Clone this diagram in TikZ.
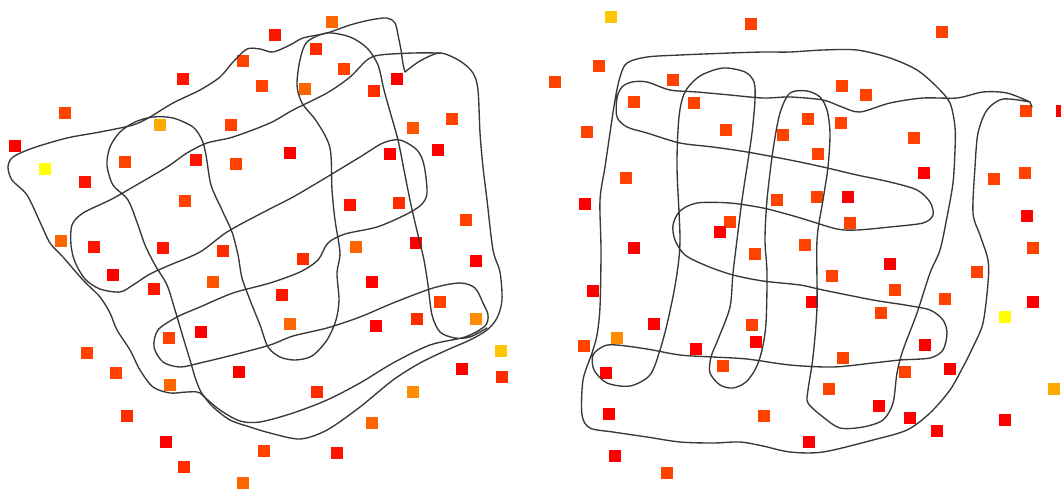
\documentclass[tikz,border=0pt]{standalone}
\definecolor{cR}{HTML}{FF0000}
\definecolor{cRa}{HTML}{FF1400}
\definecolor{cRb}{HTML}{FF2C00}
\definecolor{cOa}{HTML}{FF4200}
\definecolor{cOm}{HTML}{FF5400}
\definecolor{cOb}{HTML}{FF6600}
\definecolor{cOc}{HTML}{FF8C00}
\definecolor{cOd}{HTML}{FFA800}
\definecolor{cYa}{HTML}{FFC600}
\definecolor{cY}{HTML}{FFFF00}
\definecolor{ink}{HTML}{383838}
\newcommand\sq[3]{\fill[#1] (#2,#3) ++(-5.75,-5.75) rectangle ++(11.5,11.5);}
\tikzset{scribble/.style={draw=ink,line width=1.35pt,line join=round,line cap=round}}
\begin{document}
\begin{tikzpicture}[x=1pt,y=-1pt]
\useasboundingbox (0,0) rectangle (1061,491);
% ---------- left panel squares ----------
\sq{cOb}{332}{22} \sq{cRa}{275}{35} \sq{cRb}{316}{49} \sq{cOa}{243}{61}
\sq{cRa}{183}{79} \sq{cOa}{344}{69} \sq{cOa}{262}{86} \sq{cOb}{305}{89}
\sq{cRb}{374}{91} \sq{cR}{397}{79} \sq{cOa}{65}{113} \sq{cOd}{160}{125}
\sq{cOa}{231}{125} \sq{cR}{15}{146} \sq{cY}{45}{169} \sq{cRa}{85}{182}
\sq{cOa}{125}{162} \sq{cRa}{196}{160} \sq{cOa}{236}{164} \sq{cR}{290}{153}
\sq{cOm}{413}{128} \sq{cOa}{452}{119} \sq{cR}{438}{150} \sq{cR}{390}{154}
\sq{cOa}{185}{201} \sq{cRa}{350}{205} \sq{cRb}{399}{203} \sq{cOa}{466}{220}
\sq{cOb}{61}{241} \sq{cRa}{94}{247} \sq{cRa}{163}{248} \sq{cRb}{223}{251}
\sq{cRb}{303}{259} \sq{cOb}{356}{247} \sq{cR}{416}{243} \sq{cR}{476}{261}
\sq{cR}{113}{275} \sq{cRa}{154}{289} \sq{cOm}{213}{282} \sq{cR}{372}{282}
\sq{cRa}{282}{295} \sq{cOa}{440}{302} \sq{cOc}{476}{319} \sq{cOa}{169}{338}
\sq{cR}{201}{332} \sq{cOb}{290}{324} \sq{cR}{376}{326} \sq{cRb}{417}{319}
\sq{cOa}{87}{353} \sq{cOa}{116}{373} \sq{cOb}{170}{385} \sq{cR}{239}{372}
\sq{cRb}{317}{392} \sq{cOc}{413}{392} \sq{cR}{462}{369} \sq{cYa}{501}{351}
\sq{cRb}{502}{377} \sq{cRb}{127}{416} \sq{cR}{166}{442} \sq{cRb}{184}{467}
\sq{cOb}{243}{483} \sq{cOa}{264}{451} \sq{cRa}{337}{453} \sq{cOb}{372}{423}
% ---------- right panel squares ----------
\sq{cYa}{611}{17} \sq{cOa}{751}{24} \sq{cOa}{942}{32} \sq{cOa}{599}{66}
\sq{cOa}{555}{82} \sq{cOa}{673}{80} \sq{cOa}{634}{102} \sq{cOa}{694}{103}
\sq{cOa}{587}{132} \sq{cOa}{726}{130} \sq{cOa}{783}{135} \sq{cOa}{626}{178}
\sq{cR}{585}{204} \sq{cOa}{777}{200} \sq{cOa}{730}{222} \sq{cR}{720}{232}
\sq{cR}{634}{248} \sq{cOa}{842}{86} \sq{cOa}{866}{95} \sq{cOa}{1026}{111}
\sq{cR}{1062}{111} \sq{cOa}{808}{119} \sq{cOa}{841}{123} \sq{cOa}{914}{138}
\sq{cOa}{818}{154} \sq{cR}{924}{173} \sq{cOa}{994}{179} \sq{cOa}{1025}{173}
\sq{cOa}{817}{197} \sq{cR}{848}{197} \sq{cOa}{850}{223} \sq{cR}{1027}{216}
\sq{cOa}{1033}{248} \sq{cOa}{805}{245} \sq{cOa}{755}{254} \sq{cR}{593}{291}
\sq{cR}{654}{324} \sq{cOc}{617}{338} \sq{cOa}{584}{346} \sq{cOa}{752}{325}
\sq{cR}{756}{342} \sq{cR}{696}{349} \sq{cR}{606}{373} \sq{cOa}{723}{366}
\sq{cR}{609}{414} \sq{cOa}{764}{416} \sq{cR}{615}{456} \sq{cOa}{667}{473}
\sq{cR}{890}{264} \sq{cOa}{832}{276} \sq{cOa}{977}{272} \sq{cOa}{895}{290}
\sq{cOa}{945}{299} \sq{cR}{1033}{302} \sq{cR}{812}{302} \sq{cOa}{881}{313}
\sq{cY}{1005}{317} \sq{cR}{925}{345} \sq{cOa}{843}{358} \sq{cOa}{905}{372}
\sq{cR}{950}{369} \sq{cOa}{829}{389} \sq{cOd}{1054}{389} \sq{cR}{879}{406}
\sq{cR}{910}{418} \sq{cR}{937}{431} \sq{cR}{1005}{420} \sq{cR}{809}{442}
% ---------- left panel scribble: outer loop ----------
\draw[scribble] plot[smooth,tension=0.5] coordinates {
(405,72) (420,61) (440,53) (460,61) (473,73) (478,90) (480,133) (483,167)
(487,200) (493,250) (500,272) (502,300) (497,318) (487,330) (470,340)
(447,350) (420,363) (393,380) (360,407) (327,430) (300,439) (270,433)
(250,427) (230,420) (213,407) (200,393) (187,392) (170,393) (153,387)
(140,370) (130,350) (117,330) (110,313) (100,297) (83,280) (63,257)
(50,243) (40,222) (27,195) (12,180) (8,167) (13,157) (33,148) (67,138)
(100,132) (133,125) (150,117) (173,103) (200,90) (220,77) (233,62)
(247,49) (260,49) (273,52) (290,45) (303,38) (327,33) (350,25) (370,20)
(387,18) (395,23) (398,35) (401,50) (403,64) (405,72)};
% ---------- left panel scribble: serpentine ----------
\draw[scribble] plot[smooth,tension=0.5] coordinates {
(440,53) (413,53) (380,55) (367,60) (350,77) (327,93) (293,110) (270,123)
(233,137) (207,143) (187,153) (167,167) (133,187) (110,200) (83,213)
(72,225) (71,245) (75,262) (85,279) (100,289) (120,292) (133,285)
(150,274) (170,265) (200,252) (227,232) (260,214) (293,197) (327,177)
(360,157) (383,143) (400,140) (417,150) (424,165) (427,193) (421,205)
(405,215) (377,227) (345,234) (328,243) (318,260) (300,272) (270,283)
(233,293) (200,307) (177,317) (158,330) (154,347) (163,362) (180,367)
(200,363) (233,355) (270,345) (293,336) (327,328) (360,317) (393,303)
(433,288) (460,283) (475,288) (483,303) (488,315) (485,326) (465,337)
(430,345) (393,363) (360,383) (327,400) (293,413) (260,422) (240,421)
(220,410) (203,395) (196,380) (190,360) (183,337) (175,310) (167,285)
(155,265) (145,245) (138,225) (128,200) (113,185) (107,165) (110,147)
(120,132) (135,122) (153,117) (173,118) (193,127) (202,140) (206,155)
(211,185) (222,210) (232,232) (238,255) (242,278) (250,300) (260,325)
(268,347) (280,357) (295,360) (312,356) (327,340) (336,320) (339,300)
(337,273) (340,253) (335,220) (332,190) (330,148) (317,122) (302,103)
(297,85) (300,60) (307,42) (327,33) (350,37) (367,48) (378,65) (384,90)
(391,115) (398,140) (404,170) (411,205) (418,235) (424,260) (428,285)
(432,315) (440,332) (455,338) (470,337) (487,328)};
% ---------- right panel scribble ----------
\draw[scribble] plot[smooth,tension=0.5] coordinates {
(1030,102) (1003,99) (987,110) (978,133) (975,167) (973,213) (980,235)
(988,260) (988,283) (983,323) (973,347) (963,367) (950,390) (930,413)
(907,430) (873,440) (823,452) (790,452) (763,446) (740,442) (713,443)
(680,442) (647,437) (613,432) (590,428) (582,415) (583,380) (592,353)
(597,335) (600,307) (601,250) (600,200) (605,167) (610,133) (615,100)
(620,77) (627,63) (647,57) (680,55) (730,53) (763,52) (790,52) (823,50)
(857,50) (890,58) (917,70) (937,87) (950,103) (955,127) (955,150)
(953,183) (947,217) (940,250) (930,273) (917,313) (903,350) (897,373)
(893,403) (883,420) (863,427) (840,428) (823,417) (808,403) (808,390)
(813,357) (817,307) (817,240) (823,200) (828,167) (830,133) (827,110)
(820,97) (807,91) (790,93) (780,113) (773,150) (767,200) (765,240)
(767,273) (766,323) (762,350) (756,368) (746,382) (733,388) (720,385)
(710,373) (711,357) (719,337) (730,307) (733,273) (737,240) (742,200)
(747,167) (752,133) (755,100) (754,82) (745,72) (723,68) (700,76)
(685,92) (679,117) (677,167) (680,240) (676,280) (668,320) (660,350)
(650,375) (630,386) (607,383) (594,370) (593,355) (604,346) (617,345)
(647,349) (680,355) (713,357) (747,359) (790,365) (833,367) (873,363)
(900,360) (930,358) (943,350) (947,333) (943,320) (930,310) (905,305)
(873,300) (823,290) (800,285) (763,281) (733,275) (707,266) (685,255)
(675,240) (673,225) (680,211) (697,203) (730,203) (763,208) (790,215)
(807,220) (837,229) (857,230) (890,227) (923,223) (933,215) (930,202)
(917,190) (890,182) (857,175) (823,167) (790,160) (747,152) (713,147)
(680,143) (647,133) (627,127) (617,117) (617,98) (622,87) (632,82)
(647,82) (670,90) (697,92) (730,95) (763,98) (790,97) (823,100) (842,107)
(860,112) (890,103) (923,98) (957,98) (983,92) (1007,93) (1030,102)};
\draw[scribble] (1030,102) -- (1032,107);
\end{tikzpicture}
\end{document}
